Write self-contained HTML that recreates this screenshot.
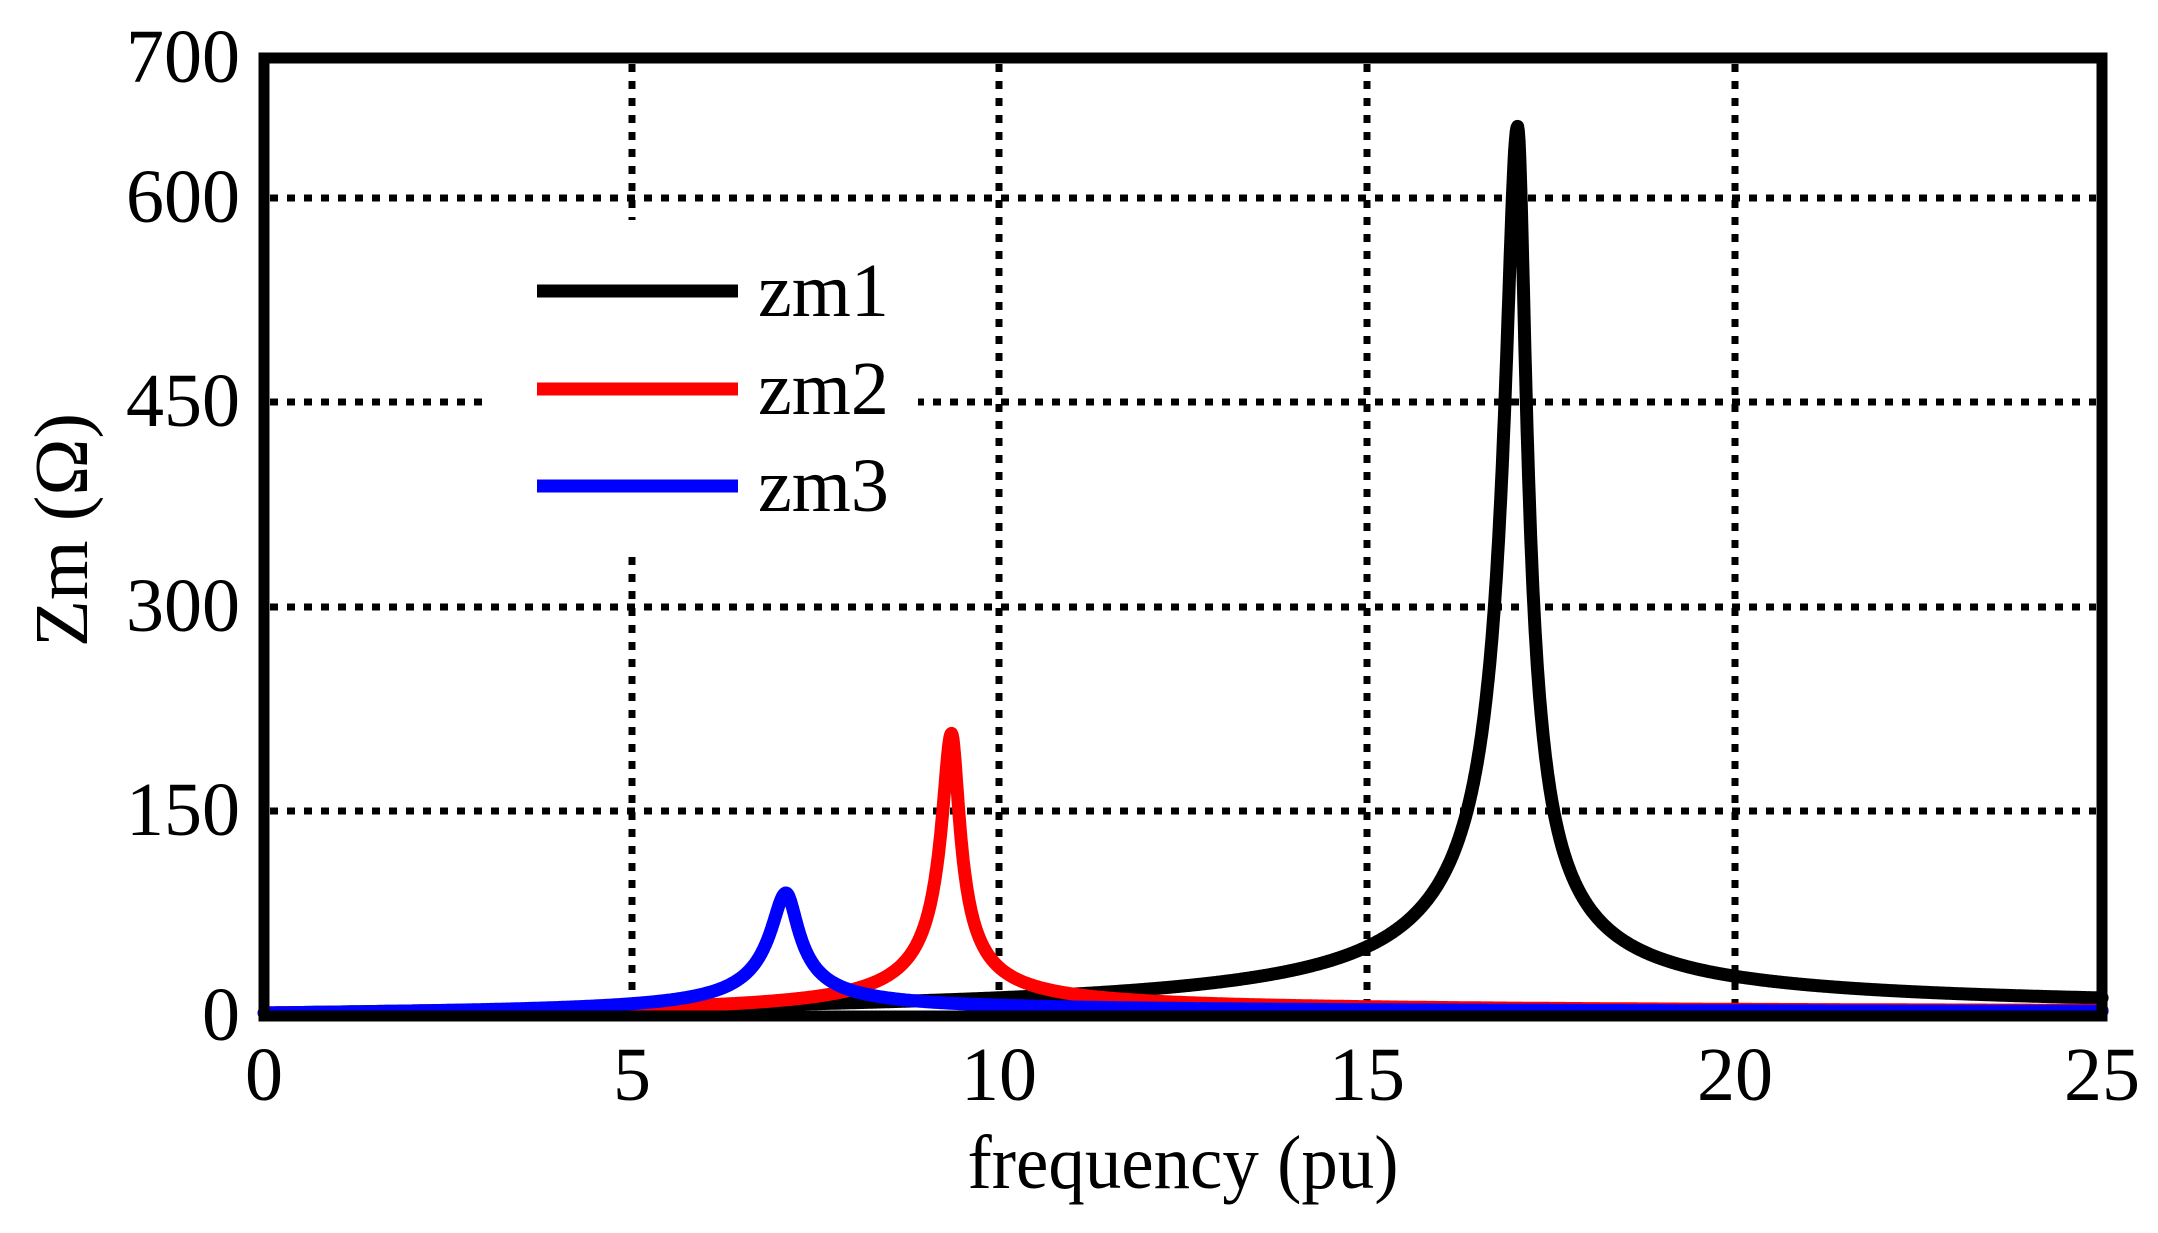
<!DOCTYPE html>
<html><head><meta charset="utf-8"><style>
html,body{margin:0;padding:0;background:#fff;}
svg{display:block;}
text{font-family:"Liberation Serif",serif;fill:#000;}
</style></head><body>
<svg id="s" width="2158" height="1233" viewBox="0 0 2158 1233" xmlns="http://www.w3.org/2000/svg">
<rect width="2158" height="1233" fill="#fff"/>
<g stroke="#000" stroke-width="7" stroke-dasharray="8 9" fill="none">
<line x1="632" y1="64" x2="632" y2="1010"/>
<line x1="999" y1="64" x2="999" y2="1010"/>
<line x1="1367" y1="64" x2="1367" y2="1010"/>
<line x1="1735" y1="64" x2="1735" y2="1010"/>
<line x1="270" y1="811" x2="2096" y2="811"/>
<line x1="270" y1="607" x2="2096" y2="607"/>
<line x1="270" y1="402" x2="2096" y2="402"/>
<line x1="270" y1="198" x2="2096" y2="198"/>
</g>
<rect x="491" y="220" width="427" height="337" fill="#fff"/>
<g id="curves" fill="none" stroke-width="13" stroke-linejoin="round" stroke-linecap="round"></g>
<rect x="264" y="58" width="1838" height="958" fill="none" stroke="#000" stroke-width="11"/>
<g stroke-width="13">
<line x1="537" y1="291" x2="738" y2="291" stroke="#000"/>
<line x1="537" y1="389" x2="738" y2="389" stroke="#f00"/>
<line x1="537" y1="486" x2="738" y2="486" stroke="#00f"/>
</g>
<g font-size="76">
<text x="758" y="316">zm1</text>
<text x="758" y="414">zm2</text>
<text x="758" y="511">zm3</text>
</g>
<g font-size="76" text-anchor="end">
<text x="240" y="82">700</text>
<text x="240" y="222">600</text>
<text x="240" y="426">450</text>
<text x="240" y="631">300</text>
<text x="240" y="835">150</text>
<text x="240" y="1040">0</text>
</g>
<g font-size="76" text-anchor="middle">
<text x="264" y="1100">0</text>
<text x="632" y="1100">5</text>
<text x="999" y="1100">10</text>
<text x="1367" y="1100">15</text>
<text x="1735" y="1100">20</text>
<text x="2102" y="1100">25</text>
<text x="1183" y="1188" textLength="431" lengthAdjust="spacingAndGlyphs">frequency (pu)</text>
<text transform="translate(87,530) rotate(-90)" textLength="234" lengthAdjust="spacingAndGlyphs">Zm (Ω)</text>
</g>
</svg>
<script>
(function(){
var g=document.getElementById('curves');
function X(f){return 264+f*73.52;}
function Y(v){return 1013-v*1.364;}
function mk(A,f0,Ql,Qh,col){
 var d='';
 for(var i=0;i<=2500;i++){
  var f=0.001+i*0.01;
  var Q=f<f0?Ql:Qh;
  var x=Q*(f/f0-f0/f);
  var v=A/Math.sqrt(1+x*x);
  d+=(i?'L':'M')+X(f).toFixed(1)+' '+Y(v).toFixed(1);
 }
 var p=document.createElementNS('http://www.w3.org/2000/svg','path');
 p.setAttribute('d',d);p.setAttribute('stroke',col);g.appendChild(p);
}
mk(650,17.05,52,75,'#000');
mk(205,9.35,38,45,'#f00');
mk(88,7.1,18,22,'#00f');
})();
</script>
</body></html>
